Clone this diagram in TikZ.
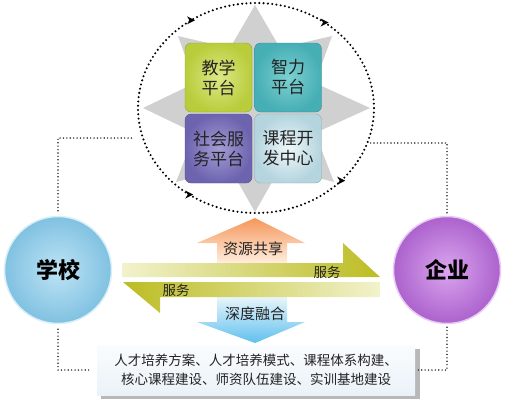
\documentclass[tikz,border=0pt]{standalone}
\usepackage{fontspec}
\newfontfamily\cjk{Noto Sans CJK SC}
\usetikzlibrary{decorations.markings,arrows.meta,shapes.geometric}
\definecolor{txt}{RGB}{35,35,35}
\definecolor{starg}{RGB}{208,208,208}
\definecolor{yelO}{RGB}{185,205,60}\definecolor{yelI}{RGB}{220,232,135}
\definecolor{teaO}{RGB}{70,175,182}\definecolor{teaI}{RGB}{125,208,208}
\definecolor{purO}{RGB}{108,100,175}\definecolor{purI}{RGB}{162,157,212}
\definecolor{ligO}{RGB}{180,212,222}\definecolor{ligI}{RGB}{238,247,250}
\definecolor{schO}{RGB}{128,193,225}\definecolor{schI}{RGB}{190,228,245}
\definecolor{entO}{RGB}{172,98,205}\definecolor{entI}{RGB}{218,165,238}
\definecolor{oliveD}{RGB}{188,188,35}\definecolor{oliveL}{RGB}{242,242,205}
\definecolor{orgD}{RGB}{245,150,90}\definecolor{orgL}{RGB}{255,240,225}
\definecolor{bluD}{RGB}{95,192,238}\definecolor{bluL}{RGB}{232,245,250}
\definecolor{boxT}{RGB}{250,252,254}\definecolor{boxB}{RGB}{234,242,249}
\tikzset{
  sq/.style={minimum width=67pt, minimum height=69pt, rounded corners=6pt,
    align=center, text=txt, font=\cjk\fontsize{17}{20}\selectfont, inner sep=0pt},
  bigc/.style={circle, minimum size=107pt, inner sep=0pt, text=black,
    font=\cjk\bfseries\fontsize{22}{26}\selectfont},
  conn/.style={line width=1.6pt, dash pattern=on 0pt off 3.4pt, line cap=round, black!85},
  lbl/.style={text=txt, font=\cjk\fontsize{15}{18}\selectfont, inner sep=0pt},
  slbl/.style={text=txt, font=\cjk\fontsize{13.5}{16}\selectfont, inner sep=0pt},
  ringtip/.pic={\fill[black, solid] (4pt,0pt) -- (-4pt,4pt) -- (-1.5pt,0pt) -- (-4pt,-4pt) -- cycle;},
  ccwtip/.style={decoration={markings,
      mark=at position 0.147 with {\pic{ringtip};},
      mark=at position 0.347 with {\pic{ringtip};},
      mark=at position 0.650 with {\pic{ringtip};},
      mark=at position 0.883 with {\pic{ringtip};}},
    postaction={decorate}}
}
\begin{document}
\begin{tikzpicture}[x=1pt,y=-1pt]
\useasboundingbox (0,0) rectangle (505,400);
% compass star
\fill[starg] (255,5) -- (280,48) -- (332,36) -- (315,83) -- (370,108) -- (315,133)
  -- (334,182) -- (280,168) -- (255,212) -- (230,168) -- (176,182) -- (195,133)
  -- (143,108) -- (195,83) -- (178,36) -- (230,48) -- cycle;
% ring outline (node for connectors) and dotted circle with arrows
\node[ellipse, minimum width=236pt, minimum height=210pt, inner sep=0pt] (ring) at (256,108) {};
\draw[line width=2.3pt, dash pattern=on 0pt off 4.3pt, line cap=round, black, ccwtip]
  (374,108) arc[start angle=0, end angle=-360, x radius=118, y radius=105];
% four squares
\node[sq, inner color=yelI, outer color=yelO, draw=yelO!80!black] (teach) at (218.5,77.5) {教学\\平台};
\node[sq, inner color=teaI, outer color=teaO, draw=teaO!80!black] (intel) at (288,77.5) {智力\\平台};
\node[sq, inner color=purI, outer color=purO, draw=purO!80!black] (social) at (218.5,148.5) {社会服\\务平台};
\node[sq, inner color=ligI, outer color=ligO, draw=ligO!80!black] (course) at (288,148.5) {课程开\\发中心};
% school and enterprise
\node[bigc, inner color=schI, outer color=schO, draw=schI!60!white, line width=1.5pt] (school) at (58,270) {学校};
\node[bigc, inner color=entI, outer color=entO, draw=entI!60!white, line width=1.5pt] (ent) at (447,270) {企业};
% vertical arrows
\shade[top color=orgD, bottom color=orgL] (255,218) -- (305,243) -- (287,243) -- (287,264)
  -- (217,264) -- (217,243) -- (197,243) -- cycle;
\shade[top color=bluL, bottom color=bluD] (217,297) -- (287,297) -- (287,322) -- (305,322)
  -- (255,343) -- (197,322) -- (217,322) -- cycle;
% horizontal arrows
\shade[left color=oliveL, right color=oliveD] (122,263) -- (343,263) -- (343,243) -- (380,277)
  -- (122,277) -- cycle;
\shade[left color=oliveD, right color=oliveL] (380,282) -- (123,282) -- (160,313) -- (160,297)
  -- (380,297) -- cycle;
\node[lbl] (share) at (253,249) {资源共享};
\node[lbl] (fuse) at (255,314) {深度融合};
\node[slbl] (svc1) at (327,272) {服务};
\node[slbl] (svc2) at (176,290) {服务};
% bottom box
\fill[black!28] (101,349) rectangle (420,399);
\node[minimum width=318pt, minimum height=50pt, top color=boxT, bottom color=boxB,
  align=center, text=txt, font=\cjk\fontsize{13.5}{19}\selectfont, inner sep=0pt] (box) at (256,370)
  {人才培养方案、人才培养模式、课程体系构建、\\核心课程建设、师资队伍建设、实训基地建设};
% dotted connectors
\coordinate (c1) at (132,138);
\coordinate (c2) at (368,143);
\draw[conn, shorten <=5pt] (school.north) |- (c1);
\draw[conn, shorten <=3pt] (ent.north) |- (c2);
\draw[conn, shorten <=5pt, shorten >=5pt] (school.south) |- (box.west);
\draw[conn, shorten <=3pt] (ent.south) |- (box.east);
\end{tikzpicture}
\end{document}
